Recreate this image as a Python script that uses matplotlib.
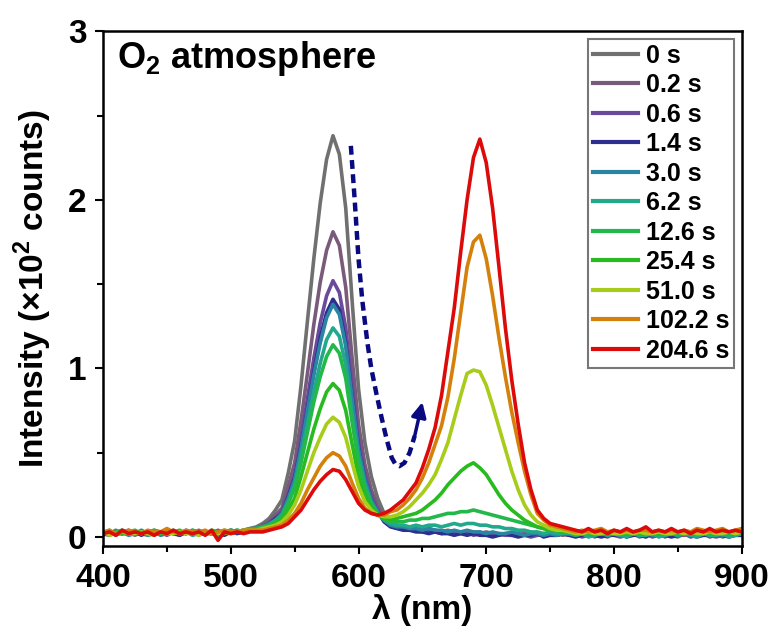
import numpy as np
import matplotlib
matplotlib.use("Agg")
import matplotlib.pyplot as plt

plt.rcParams['font.family'] = ['Liberation Sans', 'DejaVu Sans']
plt.rcParams['font.weight'] = 'bold'
plt.rcParams['mathtext.fontset'] = 'custom'
plt.rcParams['mathtext.rm'] = 'Liberation Sans:bold'
plt.rcParams['mathtext.bf'] = 'Liberation Sans:bold'

# wavelength grid (nm), 5 nm steps
wl = np.arange(400, 905, 5)

labels = ['0 s', '0.2 s', '0.6 s', '1.4 s', '3.0 s', '6.2 s',
          '12.6 s', '25.4 s', '51.0 s', '102.2 s', '204.6 s']
colors = ['#707070', '#7a5a7a', '#6a4a9a', '#2e2e8e', '#2a84a4', '#22a88a',
          '#22b84a', '#28bb20', '#a8cc1a', '#d4800a', '#dd0a0a']

# intensity (x10^2 counts): 400-515 | 520-760 | 765-900
i_0 = ([0.03, 0.02, 0.04, 0.02, 0.03, 0.01, 0.03, 0.02, 0.04, 0.03, 0.02, 0.03,
        0.01, 0.03, 0.02, 0.04, 0.02, 0.03, 0.02, 0.03, 0.04, 0.03, 0.04, 0.05] +
       [0.06, 0.08, 0.11, 0.16, 0.22, 0.38, 0.57, 0.90, 1.28, 1.65,
        1.98, 2.24, 2.38, 2.27, 1.95, 1.40, 0.88, 0.56, 0.36, 0.23,
        0.14, 0.09, 0.07, 0.06, 0.05, 0.05, 0.04, 0.05, 0.04, 0.03,
        0.04, 0.03, 0.03, 0.02, 0.03, 0.02, 0.03, 0.02, 0.01, 0.02,
        0.02, 0.01, 0.02, 0.01, 0.02, 0.01, 0.02, 0.01, 0.02] +
       [0.01, 0.02, 0.01, 0.02, 0.00, 0.02, 0.01, 0.02, 0.01, 0.01, 0.02, 0.00, 0.01, 0.02,
        0.01, 0.02, 0.01, 0.00, 0.02, 0.01, 0.02, 0.01, 0.01, 0.02, 0.00, 0.01, 0.02, 0.01])
i_02 = ([0.02, 0.03, 0.02, 0.04, 0.02, 0.03, 0.02, 0.01, 0.03, 0.02, 0.04, 0.02,
         0.03, 0.02, 0.03, 0.01, 0.03, 0.02, 0.04, 0.02, 0.03, 0.03, 0.04, 0.04] +
        [0.05, 0.07, 0.09, 0.13, 0.17, 0.30, 0.44, 0.69, 0.97, 1.26,
         1.51, 1.70, 1.81, 1.73, 1.48, 1.06, 0.67, 0.43, 0.28, 0.18,
         0.11, 0.08, 0.06, 0.05, 0.05, 0.04, 0.04, 0.03, 0.04, 0.03,
         0.03, 0.02, 0.03, 0.02, 0.02, 0.03, 0.01, 0.02, 0.02, 0.01,
         0.02, 0.01, 0.02, 0.01, 0.01, 0.02, 0.01, 0.02, 0.01] +
        [0.02, 0.01, 0.02, 0.01, 0.02, 0.01, 0.00, 0.02, 0.01, 0.02, 0.01, 0.02, 0.01, 0.01,
         0.02, 0.00, 0.02, 0.01, 0.01, 0.02, 0.01, 0.02, 0.00, 0.01, 0.02, 0.01, 0.01, 0.02])
i_06 = ([0.01, 0.03, 0.02, 0.02, 0.04, 0.02, 0.03, 0.02, 0.02, 0.03, 0.01, 0.03,
         0.02, 0.04, 0.02, 0.02, 0.03, 0.02, 0.03, 0.02, 0.04, 0.03, 0.03, 0.04] +
        [0.05, 0.06, 0.08, 0.11, 0.15, 0.25, 0.37, 0.58, 0.82, 1.06,
         1.27, 1.43, 1.52, 1.45, 1.24, 0.89, 0.57, 0.37, 0.24, 0.16,
         0.10, 0.07, 0.06, 0.05, 0.04, 0.04, 0.03, 0.04, 0.03, 0.02,
         0.03, 0.02, 0.02, 0.03, 0.01, 0.02, 0.02, 0.01, 0.02, 0.01,
         0.01, 0.02, 0.01, 0.00, 0.01, 0.02, 0.01, 0.01, 0.02] +
        [0.01, 0.02, 0.00, 0.01, 0.02, 0.01, 0.02, 0.01, 0.00, 0.01, 0.02, 0.01, 0.02, 0.00,
         0.01, 0.02, 0.01, 0.01, 0.02, 0.00, 0.01, 0.02, 0.01, 0.00, 0.01, 0.02, 0.01, 0.01])
i_14 = ([0.02, 0.01, 0.03, 0.02, 0.02, 0.03, 0.01, 0.03, 0.02, 0.02, 0.03, 0.02,
         0.01, 0.03, 0.02, 0.03, 0.02, 0.02, 0.03, 0.01, 0.03, 0.02, 0.03, 0.04] +
        [0.04, 0.06, 0.08, 0.11, 0.14, 0.24, 0.35, 0.54, 0.76, 0.98,
         1.18, 1.33, 1.41, 1.35, 1.15, 0.83, 0.53, 0.34, 0.22, 0.15,
         0.09, 0.06, 0.05, 0.04, 0.04, 0.03, 0.03, 0.02, 0.03, 0.02,
         0.02, 0.01, 0.02, 0.01, 0.02, 0.01, 0.01, 0.00, 0.01, 0.02,
         0.01, 0.00, 0.01, 0.01, 0.02, 0.00, 0.01, 0.01, 0.02] +
        [0.01, 0.00, 0.01, 0.02, 0.01, 0.00, 0.01, 0.01, 0.02, 0.00, 0.01, 0.01, 0.00, 0.02,
         0.01, 0.01, 0.00, 0.01, 0.02, 0.01, 0.00, 0.01, 0.01, 0.02, 0.01, 0.00, 0.01, 0.01])
i_30 = ([0.03, 0.02, 0.02, 0.03, 0.01, 0.02, 0.04, 0.02, 0.03, 0.01, 0.02, 0.03,
         0.02, 0.02, 0.04, 0.02, 0.03, 0.02, 0.01, 0.03, 0.03, 0.04, 0.03, 0.04] +
        [0.05, 0.06, 0.08, 0.10, 0.14, 0.23, 0.34, 0.53, 0.75, 0.96,
         1.15, 1.30, 1.38, 1.32, 1.13, 0.82, 0.52, 0.34, 0.22, 0.15,
         0.10, 0.07, 0.06, 0.06, 0.05, 0.05, 0.04, 0.05, 0.04, 0.04,
         0.03, 0.04, 0.03, 0.04, 0.03, 0.03, 0.02, 0.03, 0.02, 0.02,
         0.03, 0.02, 0.01, 0.02, 0.02, 0.01, 0.02, 0.01, 0.02] +
        [0.02, 0.01, 0.02, 0.02, 0.01, 0.03, 0.01, 0.02, 0.01, 0.02, 0.02, 0.01, 0.03, 0.01,
         0.02, 0.01, 0.02, 0.01, 0.02, 0.01, 0.02, 0.02, 0.01, 0.02, 0.01, 0.02, 0.01, 0.02])
i_62 = ([0.02, 0.04, 0.01, 0.03, 0.02, 0.02, 0.03, 0.01, 0.02, 0.03, 0.02, 0.04,
         0.02, 0.03, 0.01, 0.02, 0.03, 0.02, 0.02, 0.04, 0.03, 0.03, 0.04, 0.05] +
        [0.05, 0.06, 0.07, 0.10, 0.13, 0.21, 0.31, 0.48, 0.67, 0.86,
         1.03, 1.17, 1.24, 1.19, 1.02, 0.73, 0.47, 0.31, 0.20, 0.14,
         0.10, 0.08, 0.07, 0.07, 0.06, 0.07, 0.06, 0.07, 0.07, 0.06,
         0.07, 0.08, 0.07, 0.08, 0.08, 0.07, 0.07, 0.06, 0.06, 0.05,
         0.05, 0.04, 0.04, 0.03, 0.03, 0.02, 0.03, 0.02, 0.02] +
        [0.02, 0.01, 0.02, 0.00, 0.01, 0.02, 0.01, 0.02, 0.01, 0.00, 0.02, 0.01, 0.01, 0.02,
         0.00, 0.01, 0.02, 0.01, 0.02, 0.01, 0.00, 0.02, 0.01, 0.01, 0.02, 0.00, 0.01, 0.02])
i_126 = ([0.03, 0.02, 0.03, 0.04, 0.02, 0.03, 0.02, 0.03, 0.04, 0.02, 0.03, 0.02,
          0.03, 0.02, 0.04, 0.03, 0.02, 0.03, 0.02, 0.03, 0.04, 0.03, 0.04, 0.04] +
         [0.05, 0.06, 0.07, 0.09, 0.12, 0.20, 0.29, 0.44, 0.62, 0.80,
          0.95, 1.07, 1.14, 1.09, 0.94, 0.68, 0.44, 0.29, 0.20, 0.14,
          0.11, 0.09, 0.09, 0.09, 0.10, 0.10, 0.11, 0.11, 0.12, 0.13,
          0.14, 0.14, 0.15, 0.15, 0.16, 0.15, 0.14, 0.13, 0.12, 0.11,
          0.10, 0.09, 0.08, 0.07, 0.06, 0.05, 0.04, 0.04, 0.03] +
         [0.03, 0.02, 0.03, 0.02, 0.03, 0.02, 0.02, 0.03, 0.02, 0.03, 0.02, 0.02, 0.03, 0.02,
          0.03, 0.02, 0.03, 0.02, 0.02, 0.03, 0.02, 0.03, 0.02, 0.02, 0.03, 0.02, 0.03, 0.02])
i_254 = ([0.02, 0.03, 0.02, 0.02, 0.03, 0.04, 0.02, 0.03, 0.02, 0.03, 0.02, 0.03,
          0.04, 0.02, 0.03, 0.02, 0.02, 0.04, 0.03, 0.02, 0.03, 0.04, 0.03, 0.04] +
         [0.04, 0.05, 0.06, 0.08, 0.10, 0.16, 0.23, 0.36, 0.50, 0.64,
          0.76, 0.86, 0.91, 0.87, 0.75, 0.55, 0.36, 0.25, 0.17, 0.13,
          0.11, 0.10, 0.11, 0.12, 0.13, 0.14, 0.16, 0.19, 0.22, 0.26,
          0.31, 0.35, 0.39, 0.42, 0.44, 0.41, 0.37, 0.31, 0.25, 0.20,
          0.16, 0.13, 0.10, 0.08, 0.06, 0.05, 0.04, 0.04, 0.03] +
         [0.03, 0.02, 0.03, 0.03, 0.02, 0.03, 0.02, 0.03, 0.03, 0.02, 0.03, 0.02, 0.03, 0.03,
          0.02, 0.03, 0.02, 0.03, 0.02, 0.03, 0.03, 0.02, 0.03, 0.02, 0.03, 0.03, 0.02, 0.03])
i_510 = ([0.03, 0.01, 0.02, 0.03, 0.02, 0.02, 0.03, 0.02, 0.01, 0.03, 0.02, 0.02,
          0.03, 0.02, 0.03, 0.01, 0.03, 0.02, 0.02, 0.03, 0.02, 0.03, 0.04, 0.04] +
         [0.04, 0.05, 0.06, 0.07, 0.09, 0.13, 0.19, 0.28, 0.39, 0.50,
          0.59, 0.67, 0.71, 0.68, 0.59, 0.44, 0.30, 0.21, 0.16, 0.13,
          0.12, 0.12, 0.13, 0.15, 0.18, 0.22, 0.26, 0.31, 0.37, 0.46,
          0.56, 0.70, 0.84, 0.97, 0.99, 0.98, 0.90, 0.78, 0.65, 0.52,
          0.39, 0.28, 0.19, 0.13, 0.09, 0.07, 0.05, 0.04, 0.04] +
         [0.03, 0.02, 0.02, 0.03, 0.02, 0.02, 0.03, 0.02, 0.02, 0.03, 0.02, 0.03, 0.02, 0.02,
          0.03, 0.02, 0.02, 0.03, 0.02, 0.03, 0.02, 0.02, 0.03, 0.02, 0.02, 0.03, 0.02, 0.03])
i_1022 = ([0.03, 0.04, 0.02, 0.03, 0.04, 0.03, 0.02, 0.04, 0.03, 0.03, 0.05, 0.03,
           0.02, 0.04, 0.03, 0.03, 0.04, 0.02, 0.03, 0.04, 0.03, 0.03, 0.04, 0.04] +
          [0.04, 0.04, 0.05, 0.06, 0.07, 0.10, 0.14, 0.20, 0.28, 0.35,
           0.42, 0.47, 0.50, 0.48, 0.42, 0.32, 0.23, 0.17, 0.14, 0.13,
           0.13, 0.15, 0.16, 0.19, 0.23, 0.28, 0.35, 0.44, 0.55, 0.66,
           0.83, 1.06, 1.33, 1.60, 1.75, 1.79, 1.65, 1.43, 1.18, 0.95,
           0.74, 0.56, 0.39, 0.25, 0.14, 0.10, 0.07, 0.06, 0.05] +
          [0.04, 0.03, 0.04, 0.03, 0.04, 0.05, 0.03, 0.04, 0.03, 0.04, 0.03, 0.04, 0.04, 0.03,
           0.04, 0.03, 0.04, 0.03, 0.04, 0.03, 0.05, 0.04, 0.03, 0.04, 0.05, 0.03, 0.04, 0.05])
i_2046 = ([0.02, 0.03, 0.01, 0.04, 0.02, 0.03, 0.02, 0.03, 0.01, 0.03, 0.02, 0.04,
           0.02, 0.03, 0.02, 0.03, 0.01, 0.04, -0.02, 0.03, 0.02, 0.03, 0.02, 0.03] +
          [0.03, 0.03, 0.04, 0.05, 0.06, 0.08, 0.12, 0.16, 0.22, 0.28,
           0.33, 0.37, 0.40, 0.39, 0.34, 0.27, 0.20, 0.16, 0.14, 0.13,
           0.14, 0.16, 0.19, 0.22, 0.27, 0.32, 0.41, 0.52, 0.65, 0.84,
           1.10, 1.36, 1.69, 2.00, 2.25, 2.36, 2.22, 1.95, 1.60, 1.24,
           0.93, 0.67, 0.44, 0.28, 0.16, 0.11, 0.08, 0.07, 0.06] +
          [0.05, 0.04, 0.03, 0.05, 0.03, 0.04, 0.02, 0.04, 0.03, 0.05, 0.03, 0.04, 0.06, 0.03,
           0.04, 0.03, 0.05, 0.03, 0.04, 0.02, 0.04, 0.03, 0.05, 0.03, 0.04, 0.03, 0.04, 0.03])

spectra = [i_0, i_02, i_06, i_14, i_30, i_62, i_126, i_254, i_510, i_1022, i_2046]

# dashed guide arrow (nm, intensity)
arrow_x = [594, 597, 600, 603, 607, 610, 614, 618, 622, 626, 629, 632, 636, 640, 644]
arrow_y = [2.32, 2.00, 1.65, 1.40, 1.15, 1.00, 0.85, 0.71, 0.58, 0.47, 0.43, 0.42, 0.44, 0.50, 0.60]

fig = plt.figure(figsize=(7.75, 6.37), dpi=100)
ax = fig.add_axes([0.133, 0.143, 0.824, 0.808])

for y, lab, c in zip(spectra, labels, colors):
    ax.plot(wl, y, color=c, lw=2.6, label=lab)

ax.plot(arrow_x, arrow_y, color='#0a0a80', lw=3.2, linestyle=(0, (2, 1.2)))
ax.annotate('', xy=(650, 0.80), xytext=(arrow_x[-1], arrow_y[-1]),
            arrowprops=dict(arrowstyle='-|>', color='#0a0a80', lw=2.5,
                            mutation_scale=22, shrinkA=0, shrinkB=0))

ax.set_xlim(400, 900)
ax.set_ylim(-0.053, 3)
ax.set_xticks([400, 500, 600, 700, 800, 900])
ax.set_xticks([450, 550, 650, 750, 850], minor=True)
ax.set_yticks([0, 1, 2, 3])
ax.set_yticks([0.5, 1.5, 2.5], minor=True)
ax.tick_params(which='both', direction='out', width=1.5, labelsize=24)
ax.tick_params(which='major', length=6, pad=6)
ax.tick_params(which='minor', length=4)
for s in ax.spines.values():
    s.set_linewidth(1.8)

ax.set_xlabel('λ (nm)', fontsize=24, fontweight='bold', labelpad=0)
ax.set_ylabel(r'Intensity (×10$^\mathbf{2}$ counts)', fontsize=24,
              fontweight='bold', labelpad=10)

ax.text(0.022, 0.928, r'O$_\mathbf{2}$ atmosphere', transform=ax.transAxes,
        fontsize=26, fontweight='bold', va='baseline', ha='left')

leg = ax.legend(loc='upper right', fontsize=18, frameon=True, fancybox=False,
                edgecolor='#777777', framealpha=1, borderpad=0.2,
                labelspacing=0.22, handlelength=1.8, handletextpad=0.3,
                borderaxespad=0.3)
leg.get_frame().set_linewidth(1.5)
for line in leg.get_lines():
    line.set_linewidth(3)

fig.savefig('out.png', dpi=100)
